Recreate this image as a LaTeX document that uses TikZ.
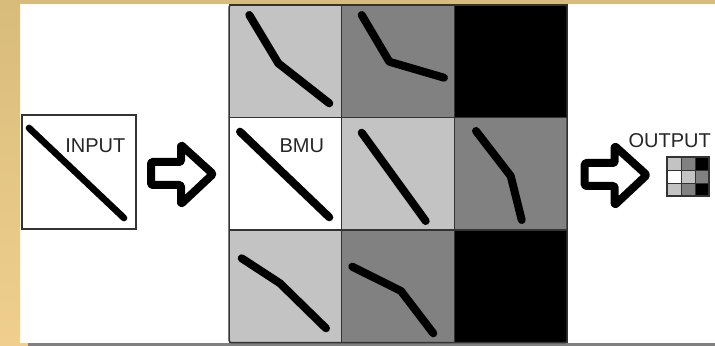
\documentclass[tikz,border=0pt]{standalone}
\usepackage{fontspec}
\setmainfont{Liberation Sans}
\definecolor{lightg}{HTML}{C3C3C3}
\definecolor{midg}{HTML}{818181}
\definecolor{tanA}{HTML}{D8BC7B}
\definecolor{tanB}{HTML}{F0CF8E}
\definecolor{edgeg}{HTML}{333333}
\begin{document}
\begin{tikzpicture}[x=0.75pt,y=-0.75pt,
  cell/.style={draw=edgeg,line width=0.9pt,inner sep=0pt,outer sep=0pt,minimum width=84.5pt,minimum height=84.4pt},
  scell/.style={draw=edgeg,line width=0.9pt,inner sep=0pt,outer sep=0pt,minimum width=10.5pt,minimum height=9.75pt},
  stroke/.style={line width=6pt,line cap=round,line join=round},
  lbl/.style={font=\fontsize{15pt}{15pt}\selectfont,inner sep=0pt,anchor=base west,text=black!85},
  blockarrow/.pic={\draw[line width=6pt,line join=round,rounded corners=1pt]
     (0,0) -- (30,0) -- (30,-17) -- (62,12) -- (30,42) -- (30,23) -- (0,23) -- cycle;}
]
\useasboundingbox (0,0) rectangle (715,346);
\fill[white] (0,0) rectangle (715,346);
\shade[top color=tanA,bottom color=tanB] (0,0) rectangle (20,346);
\fill[tanA] (0,0) rectangle (715,4);
\fill[tanB] (20,343) rectangle (28,346);
\fill[black!50] (28,343) rectangle (715,346);

% input
\node[draw=edgeg,line width=0.9pt,minimum size=85.5pt,inner sep=0pt] (input) at (79,172) {};
\draw[stroke,line width=5pt] (29,128) -- (124,218);
\node[lbl] (inlbl) at (65,153) {INPUT};

% arrows
\pic at (151,162) {blockarrow};
\pic at (584.7,163) {blockarrow};

% grid
\node[cell,fill=lightg] (c11) at (285.5,61.2) {};
\node[cell,fill=midg]   (c12) at (398.1,61.2) {};
\node[cell,fill=black]  (c13) at (510.8,61.2) {};
\node[cell,fill=white]  (c21) at (285.5,173.7) {};
\node[cell,fill=lightg] (c22) at (398.1,173.7) {};
\node[cell,fill=midg]   (c23) at (510.8,173.7) {};
\node[cell,fill=lightg] (c31) at (285.5,286.3) {};
\node[cell,fill=midg]   (c32) at (398.1,286.3) {};
\node[cell,fill=black]  (c33) at (510.8,286.3) {};
\draw[edgeg,line width=1.1pt,rounded corners=1.5pt] (c11.north west) rectangle (c33.south east);

\draw[stroke] (249.3,15) -- (278.3,63.3) -- (329.3,103.3);
\draw[stroke] (361.7,15) -- (389.3,61.7) -- (444,77.7);
\draw[stroke] (240,131.7) -- (329.3,217.3);
\draw[stroke] (361.7,132.7) -- (425.7,221);
\draw[stroke] (476,131) -- (510.7,176) -- (521.7,220);
\draw[stroke] (241.7,258.3) -- (280,283.3) -- (326,328.3);
\draw[stroke] (352.3,266.7) -- (401,291) -- (433.3,333.3);
\node[lbl] (bmu) at (279.3,152.5) {BMU};

% output
\node[lbl] (outlbl) at (628.3,147.3) {OUTPUT};
\node[scell,fill=lightg] (s11) at (674.3,163.8) {};
\node[scell,fill=midg]   (s12) at (688.3,163.8) {};
\node[scell,fill=black]  (s13) at (702.3,163.8) {};
\node[scell,fill=white]  (s21) at (674.3,176.8) {};
\node[scell,fill=lightg] (s22) at (688.3,176.8) {};
\node[scell,fill=midg]   (s23) at (702.3,176.8) {};
\node[scell,fill=lightg] (s31) at (674.3,189.8) {};
\node[scell,fill=midg]   (s32) at (688.3,189.8) {};
\node[scell,fill=black]  (s33) at (702.3,189.8) {};
\draw[edgeg,line width=1.3pt] (s11.north west) rectangle (s33.south east);
\end{tikzpicture}
\end{document}
